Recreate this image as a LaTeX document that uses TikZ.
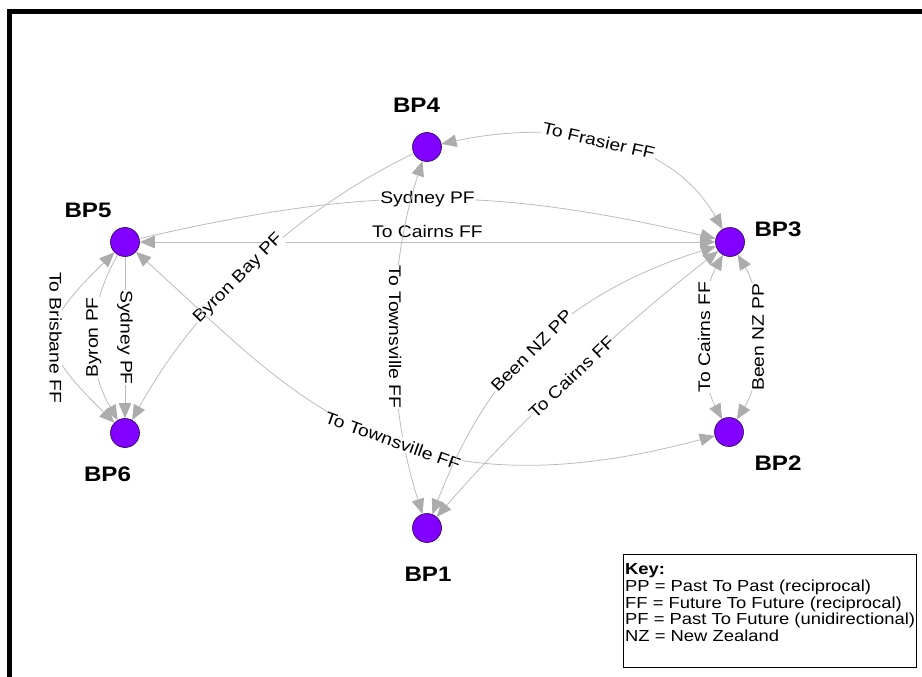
\documentclass[tikz,border=0pt]{standalone}
\usepackage{fontspec}
\setmainfont{Liberation Sans}[FakeStretch=1.15]
\usetikzlibrary{arrows.meta}
\definecolor{lgray}{RGB}{188,188,188}
\definecolor{agray}{RGB}{172,172,172}
\definecolor{bpfill}{RGB}{130,0,255}
\definecolor{bpdraw}{RGB}{40,0,90}
\newcommand{\labfont}{\fontsize{16.8}{18}\selectfont}
\begin{document}
\begin{tikzpicture}[x=1pt,y=-1pt,
  >={Triangle[length=15pt,width=12.5pt,color=agray]},
  conn/.style={draw=lgray,line width=0.8pt},
  lab/.style={fill=white,inner sep=0.6pt,text=black,font=\labfont},
  bp/.style={circle,fill=bpfill,draw=bpdraw,line width=0.6pt,minimum size=29pt,inner sep=0pt},
  bplab/.style={font=\fontsize{21}{24}\selectfont\bfseries,inner sep=0pt},
  keytxt/.style={anchor=base west,inner sep=0pt,font=\fontsize{16}{17}\selectfont}]
\useasboundingbox (0,0) rectangle (922,677);
\fill[white] (0,0) rectangle (922,677);
\draw[line width=4.5pt] (9.3,690) -- (9.3,11.7) -- (935,11.7);

% nodes
\node[bp] (BP4) at (427,147) {};
\node[bp] (BP5) at (125,242) {};
\node[bp] (BP3) at (730,242) {};
\node[bp] (BP6) at (125,433) {};
\node[bp] (BP2) at (729,432) {};
\node[bp] (BP1) at (427,528) {};

\node[bplab] (L4) at (416.5,105.5) {BP4};
\node[bplab] (L5) at (88,210) {BP5};
\node[bplab] (L3) at (778,229.5) {BP3};
\node[bplab] (L6) at (107.5,474) {BP6};
\node[bplab] (L2) at (778,463) {BP2};
\node[bplab] (L1) at (428,574) {BP1};

% connectors
\draw[conn,<->] (BP4) .. controls (544,122) and (665,129) .. (BP3)
  node[lab,pos=0.5,sloped] {To Frasier FF};
\draw[conn,->] (BP5) .. controls (365,186) and (490,186) .. (BP3)
  node[lab,pos=0.5,sloped] {Sydney PF};
\draw[conn,<->] (BP5) -- (BP3)
  node[lab,fill=none,midway,above=3.3pt] {To Cairns FF};
\draw[conn,->] (BP4) .. controls (296,210) and (195.5,305) .. (BP6)
  node[lab,pos=0.55,sloped] {Byron Bay PF};
\draw[conn,<->] (BP4) .. controls (386,274) and (386,400) .. (BP1)
  node[lab,pos=0.5,rotate=-90] {To Townsville FF};
\draw[conn,<->] (BP5) .. controls (288.5,389) and (391,522.6) .. (BP2)
  node[lab,pos=0.56,sloped] {To Townsville FF};
\draw[conn,<->] (BP1) .. controls (485,379) and (557,296) .. (BP3)
  node[lab,pos=0.49,sloped] {Been NZ PP};
\draw[conn,<->] (BP1) .. controls (519,422) and (620,327) .. (BP3)
  node[lab,pos=0.5,sloped] {To Cairns FF};
\draw[conn,<->] (BP3) .. controls (698,300) and (698,374) .. (BP2)
  node[lab,pos=0.5,rotate=90] {To Cairns FF};
\draw[conn,<->] (BP3) .. controls (765,300) and (765,374) .. (BP2)
  node[lab,pos=0.5,rotate=90] {Been NZ PP};
\draw[conn,<->] (BP5) .. controls (36,329) and (36,346) .. (BP6)
  node[lab,pos=0.5,rotate=-90] {To Brisbane FF};
\draw[conn,->] (BP5) .. controls (86,310) and (86,365) .. (BP6)
  node[lab,pos=0.5,rotate=90] {Byron PF};
\draw[conn,->] (BP5) -- (BP6)
  node[lab,pos=0.5,rotate=-90] {Sydney PF};

% key
\node[draw=black,line width=0.8pt,anchor=north west,minimum width=293pt,minimum height=113pt,inner sep=0pt] (keybox) at (623,554) {};
\node[keytxt,font=\fontsize{16}{17}\selectfont\bfseries] (k0) at (625,574.7) {Key:};
\node[keytxt] (k1) at (625,591.3) {PP = Past To Past (reciprocal)};
\node[keytxt] (k2) at (625,608) {FF = Future To Future (reciprocal)};
\node[keytxt] (k3) at (625,624.6) {PF = Past To Future (unidirectional)};
\node[keytxt] (k4) at (625,641.3) {NZ = New Zealand};
\end{tikzpicture}
\end{document}
